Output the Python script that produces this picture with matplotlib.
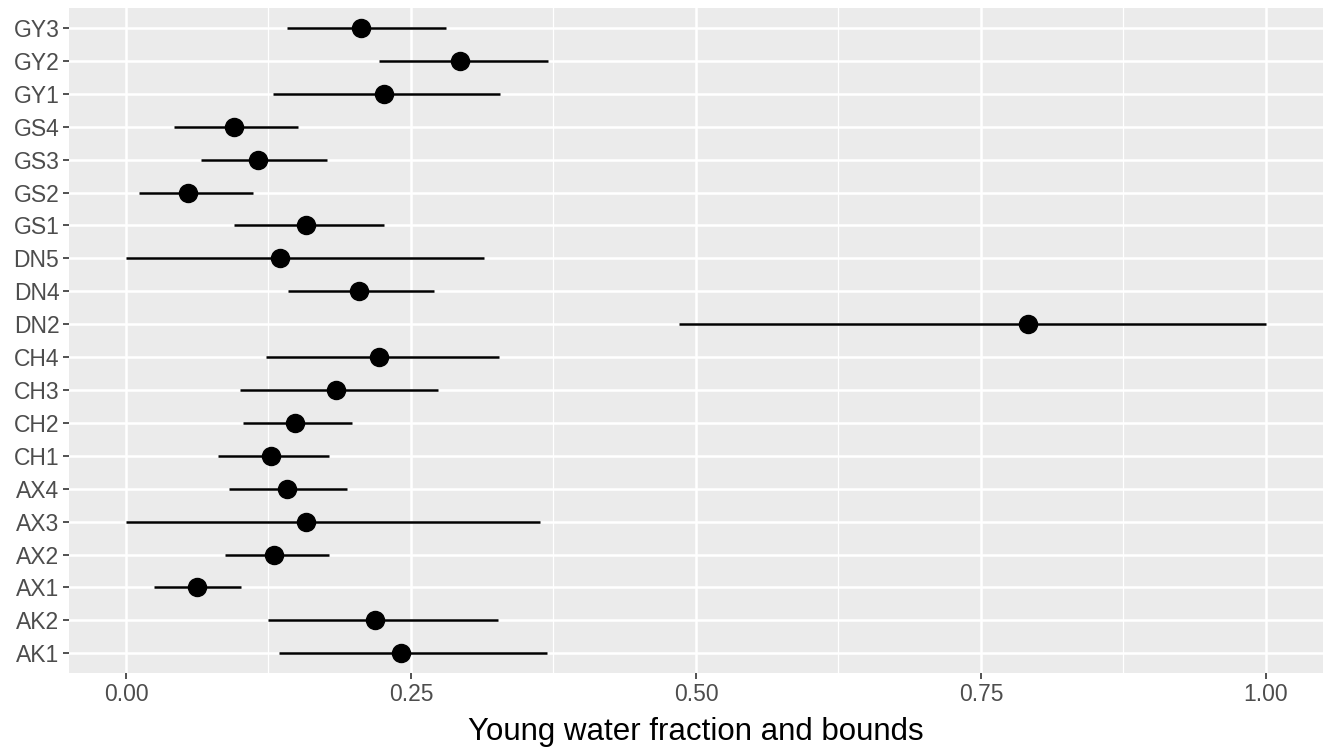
import matplotlib
matplotlib.use("Agg")
import matplotlib.pyplot as plt
from matplotlib.ticker import MultipleLocator

# sites from bottom to top
sites = ["AK1", "AK2", "AX1", "AX2", "AX3", "AX4", "CH1", "CH2", "CH3", "CH4",
         "DN2", "DN4", "DN5", "GS1", "GS2", "GS3", "GS4", "GY1", "GY2", "GY3"]
fyw = [0.241, 0.218, 0.062, 0.130, 0.158, 0.141, 0.127, 0.148, 0.184, 0.222,
       0.791, 0.204, 0.135, 0.158, 0.054, 0.116, 0.095, 0.226, 0.293, 0.206]
lower = [0.134, 0.125, 0.025, 0.087, 0.000, 0.090, 0.081, 0.103, 0.100, 0.123,
         0.485, 0.142, 0.000, 0.095, 0.011, 0.066, 0.042, 0.129, 0.222, 0.141]
upper = [0.369, 0.326, 0.101, 0.178, 0.363, 0.194, 0.178, 0.198, 0.274, 0.327,
         1.000, 0.270, 0.314, 0.226, 0.111, 0.176, 0.151, 0.328, 0.370, 0.281]

plt.rcParams['font.family'] = ['Liberation Sans', 'DejaVu Sans']

fig = plt.figure(figsize=(13.32, 7.47), dpi=100)
ax = fig.add_axes([0.0518, 0.099, 0.9414, 0.890])
ax.set_facecolor('#EBEBEB')

ypos = list(range(len(sites)))
ax.hlines(ypos, lower, upper, color='black', linewidth=1.8, zorder=3)
ax.plot(fyw, ypos, 'o', color='black', markersize=13, zorder=4)

ax.set_xlim(-0.05, 1.05)
ax.set_ylim(-0.6, len(sites) - 0.4)
ax.xaxis.set_minor_locator(MultipleLocator(0.125))
ax.set_xticks([0, 0.25, 0.5, 0.75, 1.0])
ax.set_xticklabels(["0.00", "0.25", "0.50", "0.75", "1.00"])
ax.set_yticks(ypos)
ax.set_yticklabels(sites)

ax.grid(True, which='major', color='white', linewidth=1.8, zorder=0)
ax.grid(True, which='minor', axis='x', color='white', linewidth=0.9, zorder=0)
ax.set_axisbelow(True)
for s in ax.spines.values():
    s.set_visible(False)

ax.tick_params(axis='both', which='major', colors='#333333', length=4, width=1.2,
               labelsize=16.5, labelcolor='#4D4D4D', pad=3)
ax.tick_params(axis='x', which='minor', length=0)

ax.set_xlabel('Young water fraction and bounds', fontsize=22.5, labelpad=8)

plt.savefig('out.png', dpi=100)
